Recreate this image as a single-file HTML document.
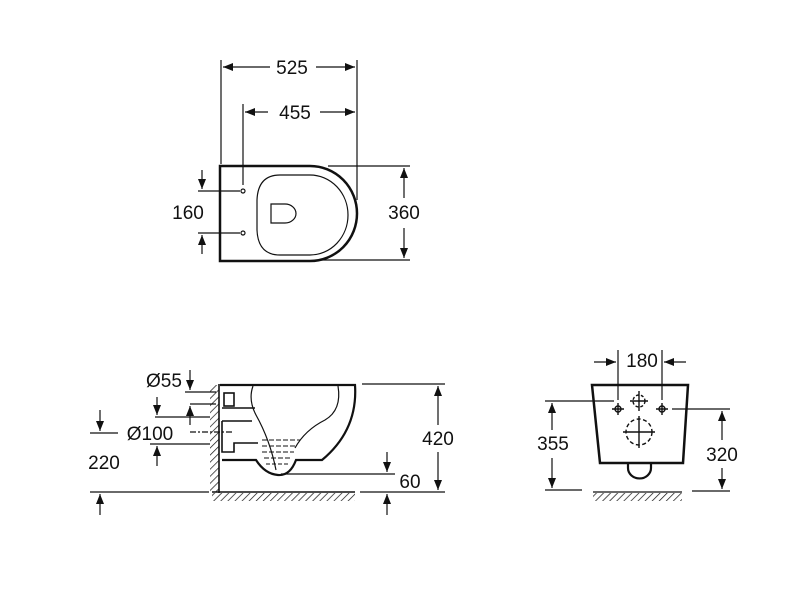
<!DOCTYPE html>
<html><head><meta charset="utf-8"><style>
html,body{margin:0;padding:0;background:#fff;}
svg{display:block;}
text{font-family:"Liberation Sans",sans-serif;font-size:19px;fill:#111;}
</style></head><body>
<svg width="800" height="600" viewBox="0 0 800 600" xmlns="http://www.w3.org/2000/svg">
<defs>
<marker id="a" markerWidth="10" markerHeight="8" refX="10" refY="4" orient="auto" markerUnits="userSpaceOnUse"><path d="M0,0 L10,4 L0,8 Z" fill="#111"/></marker>
<pattern id="h" width="5" height="5" patternUnits="userSpaceOnUse" patternTransform="rotate(45)"><line x1="0" y1="0" x2="0" y2="5" stroke="#111" stroke-width="1.4"/></pattern>
</defs>
<g stroke="#111" fill="none" stroke-width="1.2">
<!-- TOP VIEW -->
<line x1="221" y1="60" x2="221" y2="164"/>
<line x1="357" y1="60" x2="357" y2="200"/>
<line x1="243" y1="104" x2="243" y2="185"/>
<line x1="270" y1="67" x2="223" y2="67" marker-end="url(#a)"/>
<line x1="314" y1="67" x2="355" y2="67" marker-end="url(#a)"/>
<line x1="268" y1="112" x2="245" y2="112" marker-end="url(#a)"/>
<line x1="320" y1="112" x2="355" y2="112" marker-end="url(#a)"/>
<path d="M220,166 H310 A47,47.5 0 0 1 310,261 H220 Z" stroke-width="2.5"/>
<path d="M280,175 H310 A38,40 0 0 1 310,255 H280 Q258,255 257,230 V200 Q258,175 280,175 Z"/>
<path d="M271,204 H285 A11,9.5 0 0 1 285,223 H271 Z"/>
<circle cx="243" cy="191" r="2"/><circle cx="243" cy="233" r="2"/>
<line x1="198" y1="191" x2="240" y2="191"/>
<line x1="198" y1="233" x2="240" y2="233"/>
<line x1="202" y1="170" x2="202" y2="189" marker-end="url(#a)"/>
<line x1="202" y1="254" x2="202" y2="235" marker-end="url(#a)"/>
<line x1="328" y1="166" x2="410" y2="166"/>
<line x1="320" y1="260" x2="410" y2="260"/>
<line x1="404" y1="198" x2="404" y2="168" marker-end="url(#a)"/>
<line x1="404" y1="228" x2="404" y2="258" marker-end="url(#a)"/>
<!-- SIDE VIEW -->
<rect x="210" y="385" width="9" height="107" fill="url(#h)" stroke="none"/>
<rect x="212" y="493" width="143" height="8" fill="url(#h)" stroke="none"/>
<line x1="219" y1="384" x2="219" y2="493" stroke-width="1.6"/>
<line x1="212" y1="492" x2="355" y2="492" stroke-width="1.6"/>
<path d="M220,385 H355 Q358,430 322,460 H296 Q290,476 278,475 Q265,474 256,460 H222" stroke-width="2.2"/>
<path d="M253,386 Q248,400 256,415 Q270,440 276,470"/>
<path d="M338,386 Q342,410 325,420 Q305,430 295,448"/>
<rect x="224" y="393" width="10" height="13" stroke-width="1.6"/>
<path d="M222,408 H255 M222,421 H252 M222,421 V452 H234 V443 H258" stroke-width="1.6"/>
<g stroke-width="1.1">
<line x1="262" y1="440" x2="300" y2="440" stroke-dasharray="5,2"/>
<line x1="262" y1="446" x2="296" y2="446" stroke-dasharray="5,2"/>
<line x1="262" y1="452" x2="294" y2="452" stroke-dasharray="5,2"/>
<line x1="264" y1="458" x2="292" y2="458" stroke-dasharray="5,2"/>
<line x1="266" y1="464" x2="290" y2="464" stroke-dasharray="4,2"/>
</g>
<line x1="362" y1="384" x2="445" y2="384"/>
<line x1="360" y1="492" x2="445" y2="492"/>
<line x1="438" y1="425" x2="438" y2="386" marker-end="url(#a)"/>
<line x1="438" y1="452" x2="438" y2="490" marker-end="url(#a)"/>
<line x1="281" y1="474" x2="395" y2="474"/>
<line x1="387" y1="452" x2="387" y2="472" marker-end="url(#a)"/>
<line x1="387" y1="515" x2="387" y2="494" marker-end="url(#a)"/>
<line x1="90" y1="433" x2="118" y2="433"/>
<line x1="90" y1="492" x2="209" y2="492"/>
<line x1="100" y1="410" x2="100" y2="431" marker-end="url(#a)"/>
<line x1="100" y1="515" x2="100" y2="494" marker-end="url(#a)"/>
<line x1="185" y1="392" x2="216" y2="392"/>
<line x1="190" y1="404" x2="216" y2="404"/>
<line x1="190" y1="370" x2="190" y2="390" marker-end="url(#a)"/>
<line x1="190" y1="425" x2="190" y2="406" marker-end="url(#a)"/>
<line x1="155" y1="417" x2="210" y2="417"/>
<line x1="150" y1="444" x2="210" y2="444"/>
<line x1="157" y1="397" x2="157" y2="415" marker-end="url(#a)"/>
<line x1="157" y1="466" x2="157" y2="446" marker-end="url(#a)"/>
<line x1="190" y1="432" x2="232" y2="432" stroke-dasharray="6,2,2,2"/>
<!-- FRONT VIEW -->
<path d="M592,385 H688 L683,463 H600 Z" stroke-width="2.5"/>
<path d="M628,463 V468 A11,10 0 0 0 651,468 V463" stroke-width="2.2"/>
<rect x="593" y="493" width="89" height="8" fill="url(#h)" stroke="none"/>
<line x1="593" y1="492" x2="682" y2="492"/>
<line x1="618" y1="350" x2="618" y2="400"/>
<line x1="662" y1="350" x2="662" y2="400"/>
<line x1="594" y1="362" x2="616" y2="362" marker-end="url(#a)"/>
<line x1="686" y1="362" x2="664" y2="362" marker-end="url(#a)"/>
<line x1="545" y1="401" x2="614" y2="401"/>
<line x1="545" y1="490" x2="582" y2="490"/>
<line x1="552" y1="430" x2="552" y2="403" marker-end="url(#a)"/>
<line x1="552" y1="458" x2="552" y2="488" marker-end="url(#a)"/>
<line x1="672" y1="409" x2="730" y2="409"/>
<line x1="692" y1="491" x2="730" y2="491"/>
<line x1="722" y1="440" x2="722" y2="411" marker-end="url(#a)"/>
<line x1="722" y1="468" x2="722" y2="489" marker-end="url(#a)"/>
<g stroke-width="1.4">
<circle cx="618" cy="409" r="3"/><path d="M612,409 H624 M618,403 V415"/>
<circle cx="662" cy="409" r="3"/><path d="M656,409 H668 M662,403 V415"/>
<circle cx="639" cy="401" r="6" stroke-dasharray="3,2"/><path d="M630,401 H648 M639,391 V411"/>
<circle cx="639" cy="432" r="13" stroke-dasharray="4,2.5"/><path d="M623,432 H655 M639,416 V448"/>
</g>
</g>
<g text-anchor="middle">
<rect x="270" y="56" width="46" height="22" fill="#fff"/>
<text x="292" y="74">525</text>
<text x="295" y="119">455</text>
<rect x="386" y="201" width="38" height="22" fill="#fff"/>
<text x="404" y="219">360</text>
<text x="188" y="219">160</text>
<rect x="418" y="427" width="40" height="22" fill="#fff"/>
<text x="438" y="445">420</text>
<text x="410" y="488">60</text>
<text x="104" y="469">220</text>
<text x="164" y="387">Ø55</text>
<text x="150" y="440">Ø100</text>
<text x="642" y="367">180</text>
<rect x="532" y="432" width="40" height="22" fill="#fff"/>
<text x="553" y="450">355</text>
<rect x="702" y="442" width="40" height="22" fill="#fff"/>
<text x="722" y="461">320</text>
</g>
</svg>
</body></html>
